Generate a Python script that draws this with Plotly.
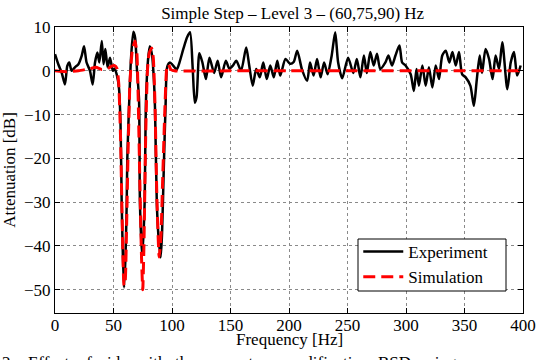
import plotly.graph_objects as go

# ---------------- data ----------------
freq_exp = [0, 2.8, 5.7, 8.5, 10.5, 12.2, 14.2, 17, 20, 22.8, 24.8, 27, 29.9, 32.2, 34.2, 36.2,
            37.9, 40, 41.5, 43, 45, 47, 49.5, 51, 52.7, 54.7, 56, 57, 57.8, 59, 60.3, 61.3, 61.8,
            63.5, 65, 67, 68.5, 70, 71.8, 72.6, 74.4, 75.5, 76.6, 77.8, 79.5, 81, 83, 84.5, 85.5,
            87, 88.5, 90.3, 91.5, 93, 94.5, 96, 98.3, 101, 104, 106.5, 109.7, 113, 115.4, 117.7,
            119.5, 121, 123.4, 126, 129, 132, 136, 139, 142, 146, 149, 152, 155, 159, 163.4, 166,
            169, 172, 175, 178, 181, 184, 187, 190, 192.5, 197, 201, 204, 207, 211, 215.5, 218,
            221, 224, 227, 230, 233, 236.5, 239.5, 242, 245.5, 250.5, 255, 258, 261, 264, 266.5,
            269.5, 272.4, 275.2, 278, 282.4, 285, 288, 291, 294.4, 296.7, 299.6, 304, 306.7, 309,
            311, 314, 316.8, 319.6, 322.5, 325.4, 328.2, 331, 334, 337, 339.7, 342.5, 345.3, 348,
            351, 355, 358, 360.5, 363, 365, 368, 371, 374, 376.6, 379.5, 382.3, 386.6, 389.5,
            392.3, 395, 398, 400]
att_exp = [3.8, 1.5, -0.4, -3.1, 1.1, 1.9, 0, 0.8, 1.5, 3.4, 5.6, 1.9, 0, -3.1, 1.9, 4.2,
           1.9, 6.8, 1.5, 5.0, 0.8, 3.0, 0, 0.5, -0.8, -4.0, -12, -30, -40, -49.5, -42, -30, -20,
           -6.5, 3, 8.9, 7.5, 0.5, -6.5, -30, -42.2, -38, -30, -6.5, 2.5, 5.6, 3.5, -2, -8.8,
           -30, -38, -42.6, -37, -22, -8, 1.0, 1.9, 1.2, 0.3, 2.0, 5.0, 7.7, 8.8, 0.5,
           -7.3, -6.0, 4.0, 1.9, -1.9, 3.0, -0.5, 2.3, -1.5, 2.3, 0.5, 1.2, 2.3, 0, 5.3, 1.2,
           -3.4, 0.4, -1.5, 1.9, -1.9, 1.2, -1.5, 2.3, -1.1, 2.7, 1.6, 2.0, 4.6, 0.4, -2.3, 1.9,
           -1.1, 2.7, -1.5, 1.9, -0.8, 3.5, 8.8, 1.9, -1.7, 3.0, -0.5, 2.7, -1.5, 3.5, -0.5,
           4.3, 1.2, 3.9, 0.4, 1.9, 3.5, 1.2, 3.5, 5.8, 1.9, 1.2, -0.8, -4.6, 0.4,
           -3.4, 1.2, -3.4, 0.8, -3.8, 1.2, -1.9, 3.5, 4.6, 1.9, 4.3, 1.2, 4.3, -0.8,
           -1.5, -3.4, -8.0, -2.0, 3.5, -0.5, 5.0, 2.7, -1.9, 3.5, 0.4, 6.5, -4.2,
           1.9, 4.3, -1.1, 1.2]

freq_sim = [0, 10, 20, 30, 35, 40, 45, 48, 51, 53, 54.5, 56, 57.5, 59, 60, 61, 62.5, 64, 66,
            68.4, 70, 71, 72.5, 74, 75, 76, 77.5, 79, 80.5, 82.6, 84, 85.5, 87, 89, 90.5, 92,
            94, 95.5, 97, 99, 102, 150, 200, 250, 300, 350, 400]
att_sim = [0, -0.2, 0, 0.5, 0.8, 0.3, 0.5, 1.0, 1.2, 0.5, -3, -15, -35, -49, -48, -38, -18, -3,
           4.5, 6.8, 4, -5, -25, -43, -50, -40, -15, 0, 4, 5.2, 3, -8, -28, -42.5, -38, -25,
           -8, 0.5, 1.5, 0.3, 0, 0, 0, 0, 0, 0, 0]

x_ticks = [0, 50, 100, 150, 200, 250, 300, 350, 400]
y_ticks = [10, 0, -10, -20, -30, -40, -50]

FONT = "Liberation Serif"

fig = go.Figure()
fig.add_trace(go.Scatter(x=freq_exp, y=att_exp, mode="lines", name="Experiment",
                         line=dict(color="black", width=2.5, shape="spline", smoothing=0.7)))
fig.add_trace(go.Scatter(x=freq_sim, y=att_sim, mode="lines", name="Simulation",
                         line=dict(color="#ff0000", width=3, dash="12px,6px",
                                   shape="spline", smoothing=0.5)))

axis_common = dict(showline=True, linecolor="black", linewidth=1, mirror="allticks",
                   ticks="inside", ticklen=5, tickcolor="black", automargin=False,
                   showgrid=True, gridcolor="#8a8a8a", griddash="dot", gridwidth=1,
                   zeroline=False, tickfont=dict(family=FONT, size=17, color="black"))

fig.update_xaxes(range=[0, 400], tickvals=x_ticks, ticklabelstandoff=-3, **axis_common)
fig.update_yaxes(range=[-55.3, 10], tickvals=y_ticks,
                 title=dict(text="Attenuation [dB]", font=dict(family=FONT, size=17, color="black"),
                            standoff=4),
                 **axis_common)

fig.update_layout(
    width=537, height=360,
    margin=dict(l=55, r=14, t=27, b=47),
    paper_bgcolor="white", plot_bgcolor="white",
    font=dict(family=FONT, size=17, color="black"),
    title=dict(text="Simple Step \u2013 Level 3 \u2013 (60,75,90) Hz", x=0.545, xanchor="center",
               y=0.965, yanchor="middle", font=dict(family=FONT, size=17, color="black")),
    showlegend=True,
    legend=dict(x=0.648, y=0.276, xanchor="left", yanchor="top",
                bgcolor="rgba(0,0,0,0)", borderwidth=0,
                font=dict(family=FONT, size=17, color="black"),
                itemwidth=40, tracegroupgap=0),
    shapes=[dict(type="rect", xref="paper", yref="paper",
                 x0=(358 - 55) / 468, x1=(506 - 55) / 468,
                 y0=(313 - 291) / 286, y1=(313 - 239) / 286,
                 line=dict(color="black", width=1), fillcolor="white", layer="above")],
    annotations=[
        dict(text="Frequency [Hz]", xref="paper", yref="paper", x=0.5, y=-0.091,
             xanchor="center", yanchor="middle", showarrow=False,
             font=dict(family=FONT, size=17, color="black")),
        dict(text="2:&nbsp;&nbsp; Effect&nbsp; of&nbsp; side&nbsp; with&nbsp; the&nbsp; resonators&nbsp; modification&nbsp; BSD&nbsp; using",
             xref="paper", yref="paper", x=-0.118, y=-0.133, xanchor="left", yanchor="top",
             showarrow=False, font=dict(family=FONT, size=17, color="black"))],
)

fig.write_html("out.html")
